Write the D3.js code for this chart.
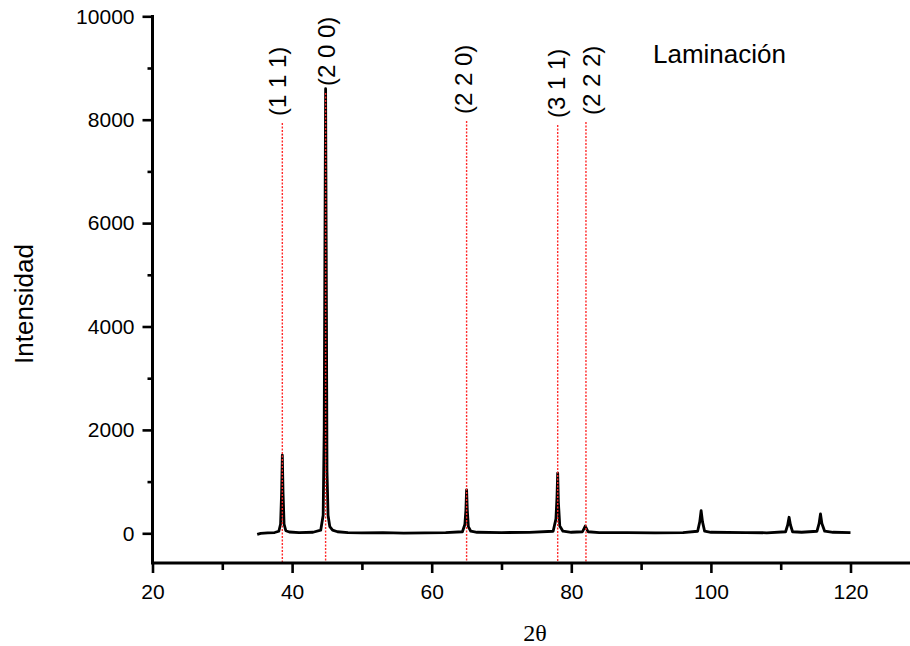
<!DOCTYPE html>
<html>
<head>
<meta charset="utf-8">
<script src="https://cdn.jsdelivr.net/npm/d3@7"></script>
<style>
  html, body { margin: 0; padding: 0; background: #fff; }
  svg { display: block; }
  text { font-family: "Liberation Sans", Arial, sans-serif; fill: #000; }
</style>
</head>
<body>
<svg id="chart" width="910" height="646"></svg>
<script>
// ---- data ----
const twoTheta = [35.0, 35.5, 36.5, 37.5, 38.1, 38.35, 38.5, 38.6, 38.7, 38.85, 39.1, 39.6, 41, 43,
  44.1, 44.45, 44.6, 44.7, 44.8, 44.9, 45.0, 45.15, 45.4, 45.8, 46.5, 48, 50, 53, 56, 59, 62,
  64.4, 64.75, 64.9, 65.0, 65.1, 65.25, 65.6, 66.5, 70, 74,
  77.4, 77.8, 77.95, 78.05, 78.15, 78.35, 78.8, 80,
  81.6, 82.0, 82.4, 84, 88, 92, 96,
  98.1, 98.4, 98.6, 98.8, 99.1, 100, 105, 108,
  110.7, 111.0, 111.2, 111.4, 111.7, 113,
  115.2, 115.5, 115.7, 115.9, 116.3, 117.5, 120.0];
const intensity = [-20, 0, 10, 15, 40, 180, 800, 1510, 800, 180, 50, 25, 15, 20,
  60, 350, 2000, 5500, 8600, 5000, 1200, 350, 130, 60, 30, 15, 10, 15, 5, 10, 15,
  30, 170, 450, 840, 450, 130, 40, 20, 15, 18,
  40, 280, 700, 1165, 600, 140, 40, 20,
  30, 140, 30, 15, 15, 10, 15,
  40, 220, 440, 220, 40, 20, 15, 10,
  30, 160, 310, 160, 30, 20,
  40, 190, 375, 190, 40, 20, 15];
const peakPos = [38.6, 44.8, 65.0, 78.05, 82.1];
const peakLabels = ["(1 1 1)", "(2 0 0)", "(2 2 0)", "(3 1 1)", "(2 2 2)"];
const xMajorTicks = [20, 40, 60, 80, 100, 120];
const xMinorTicks = [30, 50, 70, 90, 110, 130];
const yMajorTicks = [0, 2000, 4000, 6000, 8000, 10000];
const yMinorTicks = [1000, 3000, 5000, 7000, 9000];
const xTitle = "2θ";
const yTitle = "Intensidad";
const legendText = "Laminación";

// ---- layout ----
const svg = d3.select("#chart");
const x = d3.scaleLinear().domain([20, 120]).range([152.5, 850.5]);
const y = d3.scaleLinear().domain([0, 10000]).range([533.3, 16.3]);
const axisY = 563;      // pixel row of the x axis
const axisX = 152.5;    // pixel column of the y axis

// data line
const pts = twoTheta.map((t, i) => [t, intensity[i]]);
svg.append("path")
  .datum(pts)
  .attr("fill", "none")
  .attr("stroke", "#000")
  .attr("stroke-width", 2.8)
  .attr("stroke-linejoin", "round")
  .attr("d", d3.line().x(d => x(d[0])).y(d => y(d[1])));

// peak labels and red dotted lines
const labelStartY = [116, 86, 114, 118, 115];
const labelDx = [-5, 1, -3, -1, 5];
peakPos.forEach((p, i) => {
  const px = x(p);
  svg.append("line")
    .attr("x1", px).attr("x2", px)
    .attr("y1", labelStartY[i] + 7).attr("y2", axisY)
    .attr("stroke", "#ff2a2a")
    .attr("stroke-width", 1.4)
    .attr("stroke-dasharray", "2,1.5");
  svg.append("text")
    .attr("transform", `translate(${px + labelDx[i]},${labelStartY[i]}) rotate(-90)`)
    .attr("text-anchor", "start")
    .attr("dy", "0.36em")
    .style("font-size", "24px")
    .text(peakLabels[i]);
});

// x axis
const gx = svg.append("g").attr("transform", `translate(0,${axisY})`);
gx.call(d3.axisBottom(x).tickValues(xMajorTicks).tickSize(10).tickPadding(11).tickFormat(d3.format("d")));
gx.call(g => g.select(".domain").remove());
gx.selectAll(".tick line").attr("stroke", "#000").attr("stroke-width", 2.6);
gx.selectAll(".tick text").style("font-size", "21px").style("font-family", "'Liberation Sans', Arial, sans-serif");
const gxm = svg.append("g").attr("transform", `translate(0,${axisY})`);
gxm.call(d3.axisBottom(x).tickValues(xMinorTicks).tickSize(7).tickFormat(""));
gxm.call(g => g.select(".domain").remove());
gxm.selectAll(".tick line").attr("stroke", "#000").attr("stroke-width", 2.6);
svg.append("line")
  .attr("x1", axisX).attr("x2", 910)
  .attr("y1", axisY).attr("y2", axisY)
  .attr("stroke", "#000").attr("stroke-width", 3);

// y axis
const gy = svg.append("g").attr("transform", `translate(${axisX},0)`);
gy.call(d3.axisLeft(y).tickValues(yMajorTicks).tickSize(10).tickPadding(8).tickFormat(d3.format("d")));
gy.call(g => g.select(".domain").remove());
gy.selectAll(".tick line").attr("stroke", "#000").attr("stroke-width", 2.6);
gy.selectAll(".tick text").style("font-size", "21px").style("font-family", "'Liberation Sans', Arial, sans-serif");
const gym = svg.append("g").attr("transform", `translate(${axisX},0)`);
gym.call(d3.axisLeft(y).tickValues(yMinorTicks).tickSize(5).tickFormat(""));
gym.call(g => g.select(".domain").remove());
gym.selectAll(".tick line").attr("stroke", "#000").attr("stroke-width", 2.6);
svg.append("line")
  .attr("x1", axisX).attr("x2", axisX)
  .attr("y1", y(10000) - 1.3).attr("y2", axisY + 1.5)
  .attr("stroke", "#000").attr("stroke-width", 3);

// titles
svg.append("text")
  .attr("x", 535).attr("y", 641)
  .attr("text-anchor", "middle")
  .style("font-family", "'Liberation Serif', 'Times New Roman', serif")
  .style("font-size", "24px")
  .text(xTitle);
svg.append("text")
  .attr("transform", "translate(33,304) rotate(-90)")
  .attr("text-anchor", "middle")
  .style("font-size", "26px")
  .text(yTitle);
svg.append("text")
  .attr("x", 653).attr("y", 63)
  .style("font-size", "26px")
  .text(legendText);
</script>
</body>
</html>
